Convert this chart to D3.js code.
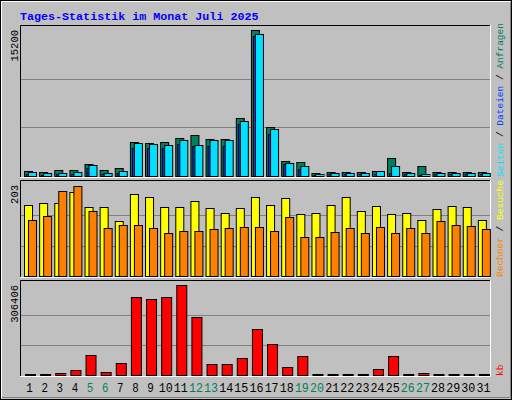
<!DOCTYPE html>
<html><head><meta charset="utf-8">
<script src="https://cdn.jsdelivr.net/npm/d3@7"></script>
<style>body{margin:0;background:#fff}</style>
</head><body><div id="container"></div>
<script>
const days = d3.range(1, 32);
const weekend = [5, 6, 12, 13, 19, 20, 26, 27];
const hits  = [480,400,600,600,1250,600,800,3500,3400,3500,4000,4300,3900,3900,6000,15200,5100,1550,1450,300,400,400,400,500,1850,400,1050,400,400,400,400];
const files = [250,150,200,250,800,200,300,2900,2900,2900,3300,3100,3100,3100,5400,14600,4400,1200,700,150,200,200,200,200,300,200,100,200,200,200,200];
const pages = [380,300,300,450,1100,350,550,3400,3300,3200,3700,3200,3700,3700,5700,14800,4900,1400,1000,250,300,300,300,500,1000,300,200,300,300,300,300];
const visits = [158,163,163,187,155,155,122,184,176,155,155,168,152,141,152,176,158,174,138,141,158,176,144,157,139,141,124,149,157,155,126];
const hosts  = [124,133,189,200,146,107,113,113,107,96,100,100,105,107,109,109,100,131,88,86,99,107,96,109,96,107,96,122,113,111,105];
const kbytes = [1500,1500,6700,17000,67000,10000,40000,266000,259000,266000,306406,199000,37000,37000,57000,155000,104000,27000,64000,1500,1500,1500,1500,20000,64000,1500,6700,1500,1500,1500,1500];
const maxTicks = ["15200", "203", "306406"];

const font = "'Liberation Mono', 'DejaVu Sans Mono', monospace";
let viz = d3.select("#container").append("svg")
  .attr("width", 512).attr("height", 400);

viz.append("rect").attr("width", 512).attr("height", 400).attr("fill", "#C0C0C0");
viz.append("rect").attr("x", 0.5).attr("y", 0.5).attr("width", 511).attr("height", 399)
  .attr("fill", "none").attr("stroke", "#000");
viz.append("path").attr("d", "M1.5,398.5V1.5H510.5").attr("stroke", "#fff").attr("fill", "none");
viz.append("path").attr("d", "M2,397.5H510.5V2").attr("stroke", "#808080").attr("fill", "none");

viz.append("text") // title
  .text("Tages-Statistik im Monat Juli 2025")
  .attr("x", 20).attr("y", 20)
  .attr("font-family", font).attr("font-weight", "bold").attr("font-size", 11.7)
  .attr("fill", "#0000FF");

let x = d3.scaleBand().domain(days).range([21, 490]);
const L = 20, R = 490;

const panels = [
  {top: 25, bottom: 177, max: 15200},
  {top: 180, bottom: 277, max: 203},
  {top: 280, bottom: 376, max: 306406}
];

panels.forEach((p, i) => {
  viz.append("rect").attr("x", L).attr("y", p.top).attr("width", R - L).attr("height", p.bottom - p.top)
    .attr("fill", "#C0C0C0");
  viz.append("path").attr("d", `M${L + 0.5},${p.bottom}V${p.top + 0.5}H${R}`).attr("stroke", "#000").attr("fill", "none");
  viz.append("path").attr("d", `M${L},${p.bottom + 0.5}H${R + 0.5}V${p.top}`).attr("stroke", "#fff").attr("fill", "none");
  p.y = d3.scaleLinear().domain([0, p.max]).range([p.bottom - 1, p.top + 5]);
  [1 / 3, 2 / 3].forEach(f => {
    let gy = Math.round(p.y(p.max * f)) + 0.5;
    viz.append("line").attr("x1", L + 1).attr("x2", R).attr("y1", gy).attr("y2", gy)
      .attr("stroke", "#808080");
  });
  viz.append("text").text(maxTicks[i])
    .attr("transform", `translate(18,${p.top + 5}) rotate(-90)`)
    .attr("text-anchor", "end")
    .attr("font-family", font).attr("font-size", 10.5).attr("fill", "#000");
});

function bars(data, p, off, w, fill) {
  viz.append("g").selectAll("rect").data(data).join("rect")
    .attr("x", (d, i) => x(days[i]) + off + 0.5)
    .attr("y", d => Math.min(Math.round(p.y(d)), p.bottom - 2) + 0.5)
    .attr("width", w)
    .attr("height", d => Math.max(1, p.bottom - 1 - Math.round(p.y(d))))
    .attr("fill", fill).attr("stroke", "#000");
}

bars(hits, panels[0], 3, 8, "#00805C");
bars(files, panels[0], 5, 8, "#0040FF");
bars(pages, panels[0], 7, 8, "#00E0FF");
bars(visits, panels[1], 3, 8, "#FFFF00");
bars(hosts, panels[1], 7, 8, "#FF8000");
bars(kbytes, panels[2], 4, 10, "#FF0000");

viz.append("g").selectAll("text").data(days).join("text")
  .text(d => d)
  .attr("x", d => x(d) + x.bandwidth() / 2 + 1)
  .attr("y", 392)
  .attr("text-anchor", "middle")
  .attr("font-family", font).attr("font-size", 12)
  .attr("textLength", d => d < 10 ? 6.5 : 14).attr("lengthAdjust", "spacingAndGlyphs")
  .attr("fill", d => weekend.includes(d) ? "#00805C" : "#000");

function sideLabel(parts, bottom) {
  let t = viz.append("text")
    .attr("transform", `translate(503,${bottom}) rotate(-90)`)
    .attr("font-family", font).attr("font-size", 9.5);
  parts.forEach(([s, c]) => t.append("tspan").text(s).attr("fill", c));
}
sideLabel([["Seiten", "#00E0FF"], [" / ", "#000"], ["Dateien", "#0040FF"], [" / ", "#000"], ["Anfragen", "#00805C"]], 177);
sideLabel([["Rechner", "#FF8000"], [" / ", "#000"], ["Besuche", "#FFFF00"]], 277);
sideLabel([["kb", "#FF0000"]], 376);
</script>
</body></html>
